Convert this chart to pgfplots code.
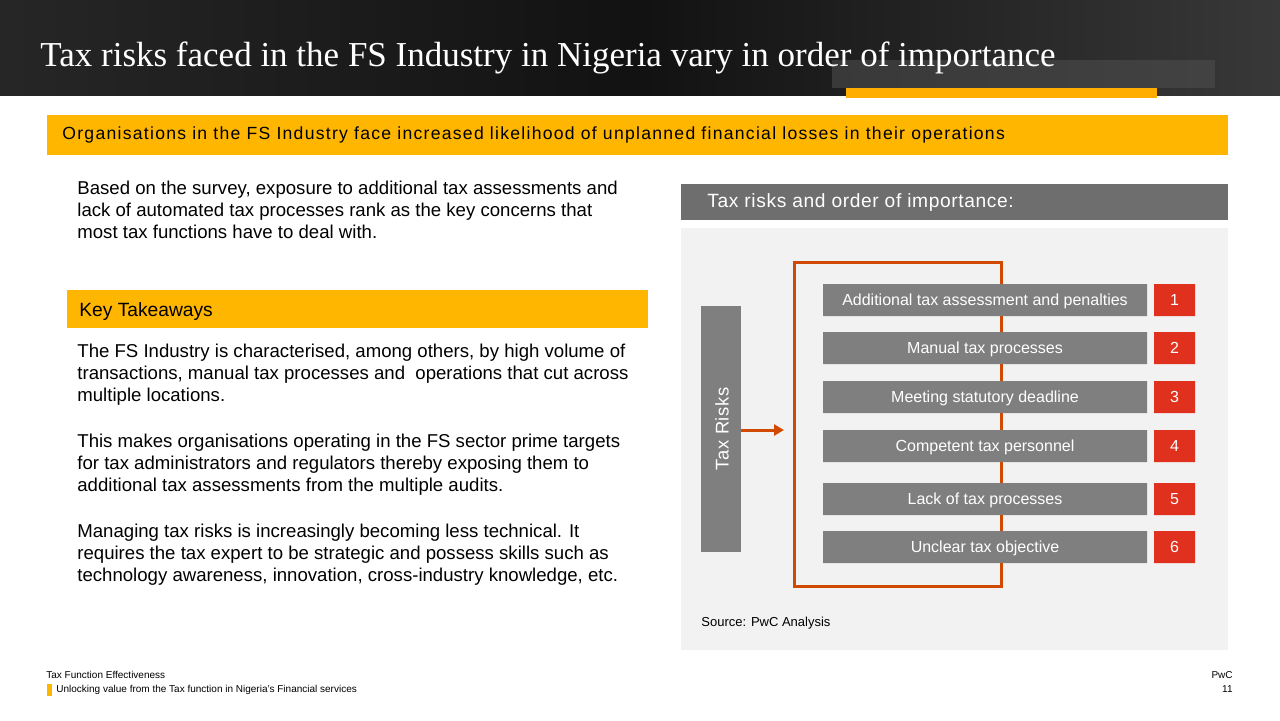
\documentclass[border=0pt]{standalone}
\usepackage{pgfplots}
\usepackage{pgfplotstable}
\pgfplotsset{compat=1.18}
\usetikzlibrary{arrows.meta}
\usepackage{fontspec}
\setmainfont{Liberation Sans}
\newfontfamily\titlefont{Liberation Serif}
\newfontfamily\spaced[LetterSpace=7.2]{Liberation Sans}
\newfontfamily\spacedb[LetterSpace=3.2]{Liberation Sans}

\definecolor{pwcyellow}{HTML}{FFB600}
\definecolor{boxgray}{HTML}{7F7F7F}
\definecolor{hdrgray}{HTML}{6E6E6E}
\definecolor{panelgray}{HTML}{F2F2F2}
\definecolor{pwcred}{HTML}{E0301E}
\definecolor{pwcorange}{HTML}{D04A02}

% rank boxes: y centre (px), bar pieces (px), label
\pgfplotstableread{
ypos start wgray gap wred lx nx label num
300 823 324 7 41 985 1174.5 {Additional tax assessment and penalties} 1
348 823 324 7 41 985 1174.5 {Manual tax processes} 2
397 823 324 7 41 985 1174.5 {Meeting statutory deadline} 3
446 823 324 7 41 985 1174.5 {Competent tax personnel} 4
499 823 324 7 41 985 1174.5 {Lack of tax processes} 5
547 823 324 7 41 985 1174.5 {Unclear tax objective} 6
}\risks

\newcommand\fs[2]{\fontsize{#1}{#2}\selectfont}

\begin{document}
\begin{tikzpicture}[x=0.5pt,y=-0.5pt,
    txt/.style={anchor=base west, inner sep=0pt},
    body/.style={txt, font=\fs{9.3}{11}}]
\useasboundingbox (0,0) rectangle (1280,720);
\fill[white] (0,0) rectangle (1280,720);

% header
\shade[left color=black!85, right color=black!78, middle color=black!93] (0,0) rectangle (1280,95);
\fill[black!70, opacity=0.6] (832,60) rectangle (1215,88);
\fill[pwcyellow!85!orange] (846,88) rectangle (1157,98);
\node[txt, text=white, font=\titlefont\fs{17.5}{19}] at (40,66)
  {Tax risks faced in the FS Industry in Nigeria vary in order of importance};

% banner
\fill[pwcyellow] (47,115) rectangle (1228,155);
\node[txt, font=\spaced\fs{8.8}{10}] at (62,139)
  {Organisations in the FS Industry face increased likelihood of unplanned financial losses in their operations};

% left column
\node[body] at (77,194) {Based on the survey, exposure to additional tax assessments and};
\node[body] at (77,216) {lack of automated tax processes rank as the key concerns that};
\node[body] at (77,238) {most tax functions have to deal with.};

\fill[pwcyellow] (67,290) rectangle (648,328);
\node[txt, font=\fs{9.6}{11}] at (79,316) {Key Takeaways};

\node[body] at (77,357) {The FS Industry is characterised, among others, by high volume of};
\node[body] at (77,379) {transactions, manual tax processes and \ operations that cut across};
\node[body] at (77,401) {multiple locations.};
\node[body] at (77,447) {This makes organisations operating in the FS sector prime targets};
\node[body] at (77,469) {for tax administrators and regulators thereby exposing them to};
\node[body] at (77,491) {additional tax assessments from the multiple audits.};
\node[body] at (77,537) {Managing tax risks is increasingly becoming less technical. It};
\node[body] at (77,559) {requires the tax expert to be strategic and possess skills such as};
\node[body] at (77,581) {technology awareness, innovation, cross-industry knowledge, etc.};

% right panel
\fill[hdrgray] (681,184) rectangle (1228,220);
\node[txt, text=white, font=\spacedb\fs{9.6}{11}] at (707,207) {Tax risks and order of importance:};
\fill[panelgray] (681,228) rectangle (1228,650);
\node[txt, font=\fs{6.5}{8}] at (701,626) {Source: PwC Analysis};

% footer
\node[txt, font=\fs{5}{6}] at (46,678) {Tax Function Effectiveness};
\fill[pwcyellow] (47,684) rectangle (52,696);
\node[txt, font=\fs{5}{6}] at (56,692) {Unlocking value from the Tax function in Nigeria's Financial services};
\node[anchor=base east, inner sep=0pt, font=\fs{5}{6}] at (1233,678) {PwC};
\node[anchor=base east, inner sep=0pt, font=\fs{5}{6}] at (1233,692) {11};

% ranked boxes
\begin{axis}[at={(0,0)}, anchor=north west, scale only axis,
    width=640pt, height=360pt,
    xmin=0, xmax=1280, ymin=0, ymax=720, y dir=reverse,
    hide axis, clip=false,
    xbar stacked, bar width=16pt]
  \addplot[draw=none, fill=none] table[x=start, y=ypos] {\risks};
  \addplot[draw=none, fill=boxgray] table[x=wgray, y=ypos] {\risks};
  \addplot[draw=none, fill=none] table[x=gap, y=ypos] {\risks};
  \addplot[draw=none, fill=pwcred] table[x=wred, y=ypos] {\risks};
\end{axis}

% bracket, arrow, labels
\begin{axis}[at={(0,0)}, anchor=north west, scale only axis,
    width=640pt, height=360pt,
    xmin=0, xmax=1280, ymin=0, ymax=720, y dir=reverse,
    hide axis, clip=false,
    bracket/.style={pwcorange, line width=1.5pt, mark=none}]
  \addplot[bracket] coordinates {(1001,284) (1001,262) (794,262) (794,586) (1001,586) (1001,563)};
  \addplot[bracket] coordinates {(1001,316) (1001,332)};
  \addplot[bracket] coordinates {(1001,364) (1001,381)};
  \addplot[bracket] coordinates {(1001,413) (1001,430)};
  \addplot[bracket] coordinates {(1001,462) (1001,483)};
  \addplot[bracket] coordinates {(1001,515) (1001,531)};
  \addplot[bracket, -{Triangle[length=5pt,width=5.5pt]}] coordinates {(741,430) (784,430)};
  \addplot[fill=boxgray, draw=none, mark=none] coordinates {(701,306) (741,306) (741,552) (701,552)} -- cycle;
  \addplot[draw=none, mark=none, nodes near coords, point meta=explicit symbolic,
    nodes near coords style={anchor=center, text=white, font=\fs{8}{9},
      text height=5.7pt, text depth=0pt, inner sep=0pt}]
    table[x=lx, y=ypos, meta=label] {\risks};
  \addplot[draw=none, mark=none, nodes near coords, point meta=explicit symbolic,
    nodes near coords style={anchor=center, text=white, font=\fs{8}{9},
      text height=5.7pt, text depth=0pt, inner sep=0pt}]
    table[x=nx, y=ypos, meta=num] {\risks};
\end{axis}

\node[rotate=90, text=white, font=\spacedb\fs{9.2}{10}, text height=6.6pt, text depth=0pt, inner sep=0pt]
  at (722,429) {Tax Risks};
\end{tikzpicture}
\end{document}
